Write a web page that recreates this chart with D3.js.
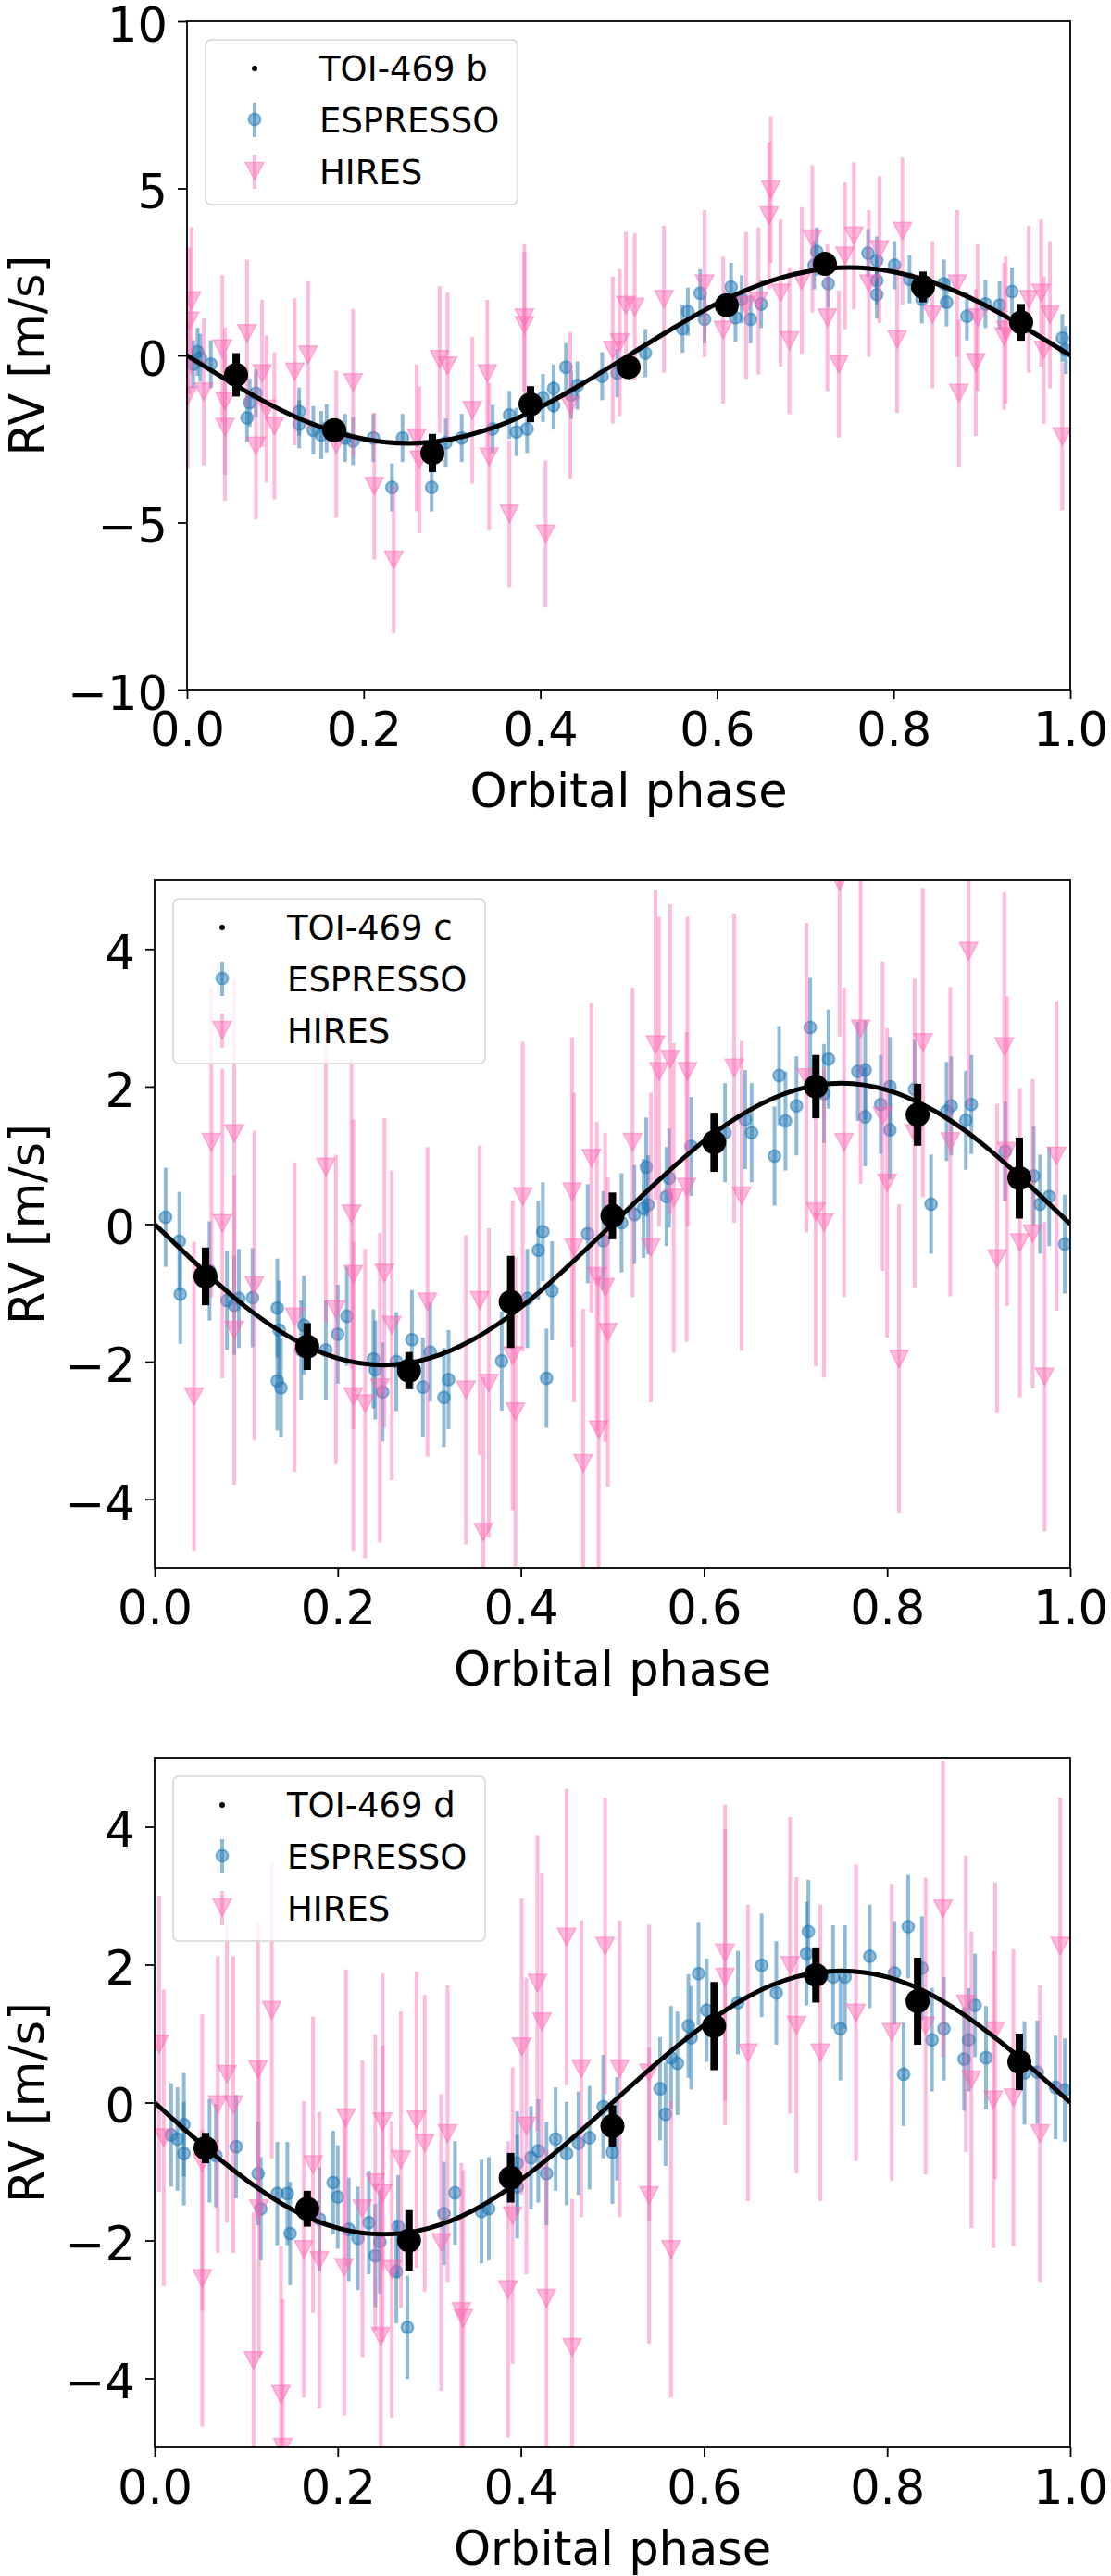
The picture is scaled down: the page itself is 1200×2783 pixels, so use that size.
<!DOCTYPE html>
<html>
<head>
<meta charset="utf-8">
<script src="https://cdn.jsdelivr.net/npm/d3@7"></script>
<style>
  body { margin: 0; background: #fff; }
  text { font-family: "DejaVu Sans", sans-serif; }
</style>
</head>
<body>
<div id="chart"></div>
<script>
// shared ticks / phase grids
const phaseTicks = [0, 0.2, 0.4, 0.6, 0.8, 1.0];
const binPhases = [0.0556, 0.1667, 0.2778, 0.3889, 0.5, 0.6111, 0.7222, 0.8333, 0.9444];
const modelPhases = [0, 0.05, 0.1, 0.15, 0.2, 0.25, 0.3, 0.35, 0.4, 0.45, 0.5,
                     0.55, 0.6, 0.65, 0.7, 0.75, 0.8, 0.85, 0.9, 0.95, 1.0];
const ticksB = [-10, -5, 0, 5, 10];
const ticksCD = [-4, -2, 0, 2, 4];

// ---- TOI-469 b ----
const espressoB = [[0.007,-0.26],[0.012,0.11],[0.015,-0.07],[0.027,-0.26],[0.068,-1.87],[0.071,-1.41],[0.078,-1.13],
  [0.127,-1.68],[0.127,-2.06],[0.143,-2.24],[0.152,-2.38],[0.158,-2.18],[0.179,-2.47],[0.188,-2.56],[0.211,-2.47],
  [0.232,-3.95],[0.244,-2.47],[0.277,-3.95],[0.293,-2.61],[0.311,-2.47],[0.346,-2.20],[0.365,-1.78],[0.373,-2.29],
  [0.385,-2.20],[0.403,-1.27],[0.415,-0.99],[0.415,-1.50],[0.429,-0.35],[0.435,-1.18],[0.442,-0.90],[0.470,-0.62],
  [0.487,-0.53],[0.519,0.07],[0.561,0.80],[0.567,1.31],[0.581,1.86],[0.586,1.08],[0.616,2.05],[0.621,1.13],
  [0.628,1.68],[0.638,1.08],[0.650,1.54],[0.710,2.70],[0.713,3.11],[0.726,2.15],[0.771,3.06],[0.781,2.84],
  [0.781,2.24],[0.781,1.82],[0.801,2.70],[0.818,2.28],[0.832,1.68],[0.857,2.15],[0.860,1.59],[0.883,1.17],
  [0.904,1.54],[0.920,1.50],[0.934,1.91],[0.991,0.52],[0.995,0.16]];
const hiresB = [[0.005,1.64],[0.003,1.03],[0.019,-1.09],[0.001,-1.20],[0.040,0.20],[0.043,-1.37],[0.043,-2.15],
  [0.068,0.66],[0.078,-2.71],[0.085,-0.54],[0.090,-1.60],[0.099,-2.11],[0.122,-0.49],[0.137,0.02],[0.169,-2.66],
  [0.188,-0.81],[0.212,-3.91],[0.234,-6.12],[0.260,-2.47],[0.263,-3.12],[0.286,-0.12],[0.295,-0.31],[0.323,-1.64],
  [0.340,-0.54],[0.342,-3.03],[0.365,-4.74],[0.382,1.13],[0.382,0.90],[0.406,-5.34],[0.434,-1.50],[0.482,0.16],
  [0.490,0.39],[0.497,1.50],[0.507,1.45],[0.540,1.68],[0.586,2.15],[0.607,0.76],[0.633,1.50],[0.647,1.63],
  [0.661,4.96],[0.659,4.18],[0.672,1.87],[0.682,0.44],[0.696,2.24],[0.708,3.49],[0.725,1.13],[0.738,-0.26],
  [0.745,2.98],[0.755,3.58],[0.772,2.15],[0.784,3.17],[0.804,0.48],[0.810,3.72],[0.844,1.22],[0.872,2.15],
  [0.874,-1.13],[0.893,-0.21],[0.895,1.13],[0.925,0.57],[0.927,0.76],[0.953,1.68],[0.967,1.87],[0.970,0.16],
  [0.977,1.22],[0.991,-2.43]];
const binnedB = [-0.58, -2.24, -2.92, -1.46, -0.35, 1.50, 2.74, 2.05, 0.99];
const binErrB = [0.65, 0.30, 0.57, 0.54, 0.30, 0.30, 0.30, 0.46, 0.55];
const modelB = [0, -0.81, -1.55, -2.13, -2.50, -2.63, -2.50, -2.13, -1.55, -0.81, 0,
                0.81, 1.55, 2.13, 2.50, 2.63, 2.50, 2.13, 1.55, 0.81, 0];

// ---- TOI-469 c ----
const espressoC = [[0.012,0.10],[0.027,-0.25],[0.028,-1.02],[0.060,-0.68],[0.079,-1.11],[0.087,-1.18],[0.092,-1.08],
  [0.107,-1.07],[0.134,-1.22],[0.136,-1.54],[0.134,-2.28],[0.138,-2.38],[0.160,-1.83],[0.163,-1.47],[0.187,-1.83],
  [0.200,-1.60],[0.210,-1.34],[0.239,-1.96],[0.241,-2.12],[0.249,-2.44],[0.264,-2.00],[0.281,-1.68],[0.293,-2.37],
  [0.301,-1.86],[0.316,-2.52],[0.321,-2.26],[0.379,-1.99],[0.407,-1.08],[0.419,-0.38],[0.424,-0.11],[0.428,-2.24],
  [0.434,-0.97],[0.473,-0.14],[0.490,-0.24],[0.510,0.02],[0.524,0.14],[0.534,0.23],[0.539,0.28],[0.537,0.83],
  [0.559,0.40],[0.562,0.67],[0.586,1.13],[0.623,1.33],[0.645,1.52],[0.652,1.33],[0.677,0.99],[0.682,2.16],
  [0.689,1.50],[0.701,1.72],[0.716,2.86],[0.731,1.90],[0.736,2.40],[0.768,2.22],[0.776,2.24],[0.776,1.56],
  [0.793,1.74],[0.803,2.00],[0.803,1.37],[0.830,1.96],[0.848,0.29],[0.865,1.64],[0.870,1.72],[0.886,1.51],
  [0.892,1.74],[0.929,1.06],[0.960,0.70],[0.967,0.29],[0.977,0.40],[0.994,-0.29]];
const hiresC = [[0.062,1.19],[0.087,1.32],[0.074,0.01],[0.043,-2.51],[0.087,-1.54],[0.109,-0.89],[0.153,-1.35],
  [0.187,0.83],[0.198,-1.24],[0.215,0.15],[0.217,-0.73],[0.217,-2.51],[0.230,-2.61],[0.246,-2.38],[0.251,-0.71],
  [0.259,-1.47],[0.298,-1.13],[0.340,-2.41],[0.355,-1.11],[0.359,-4.48],[0.365,-2.31],[0.391,-1.91],[0.394,-2.73],
  [0.402,0.40],[0.456,0.47],[0.458,-0.34],[0.468,-3.48],[0.477,0.96],[0.483,-0.76],[0.485,-2.99],[0.492,-0.92],
  [0.495,-1.57],[0.522,1.19],[0.542,-0.34],[0.547,2.61],[0.551,2.22],[0.563,2.40],[0.567,0.38],[0.581,0.54],
  [0.582,2.22],[0.633,2.27],[0.641,0.41],[0.712,2.13],[0.722,0.18],[0.731,0.02],[0.748,4.98],[0.753,1.19],
  [0.771,2.84],[0.795,1.57],[0.800,0.60],[0.813,-1.96],[0.830,1.32],[0.839,2.64],[0.869,1.20],[0.889,3.97],
  [0.920,-0.50],[0.928,2.58],[0.931,1.06],[0.945,-0.27],[0.959,-0.14],[0.972,-2.22],[0.985,0.99]];
const binnedC = [-0.76, -1.78, -2.13, -1.13, 0.12, 1.19, 2.00, 1.59, 0.67];
const binErrC = [0.42, 0.34, 0.27, 0.67, 0.34, 0.43, 0.46, 0.45, 0.59];
const modelC = [0, -0.63, -1.21, -1.66, -1.95, -2.05, -1.95, -1.66, -1.21, -0.63, 0,
                0.63, 1.21, 1.66, 1.95, 2.05, 1.95, 1.66, 1.21, 0.63, 0];

// ---- TOI-469 d ----
const espressoD = [[0.018,-0.47],[0.025,-0.53],[0.032,-0.32],[0.032,-0.74],[0.060,-0.70],[0.067,-0.77],[0.089,-0.64],
  [0.113,-1.03],[0.116,-1.54],[0.134,-1.32],[0.145,-1.32],[0.148,-1.90],[0.180,-1.69],[0.195,-1.16],[0.200,-1.37],
  [0.212,-1.84],[0.222,-1.97],[0.234,-1.74],[0.241,-2.22],[0.246,-2.02],[0.264,-2.45],[0.266,-1.80],[0.276,-3.26],
  [0.316,-1.61],[0.328,-1.31],[0.357,-1.58],[0.365,-1.54],[0.396,-1.22],[0.396,-0.88],[0.411,-0.80],[0.419,-0.70],
  [0.428,-1.03],[0.438,-0.53],[0.450,-0.74],[0.463,-0.59],[0.475,-0.51],[0.490,-0.06],[0.500,-0.72],[0.505,-0.38],
  [0.552,0.20],[0.558,-0.17],[0.564,0.65],[0.571,0.57],[0.583,1.11],[0.586,0.94],[0.594,1.87],[0.603,1.34],
  [0.637,1.45],[0.663,1.99],[0.679,1.59],[0.712,2.16],[0.714,2.48],[0.741,1.82],[0.749,1.07],[0.754,1.82],
  [0.781,2.12],[0.808,1.88],[0.818,0.41],[0.823,2.55],[0.838,1.95],[0.849,0.91],[0.862,1.07],[0.884,0.63],
  [0.889,0.91],[0.896,1.41],[0.908,0.65],[0.950,0.43],[0.964,0.44],[0.984,0.22],[0.994,0.18]];
const hiresD = [[0.005,0.85],[0.010,-0.51],[0.052,-2.55],[0.052,-0.87],[0.069,-0.03],[0.079,0.41],[0.086,-0.03],
  [0.108,-3.74],[0.113,0.48],[0.114,-1.54],[0.128,1.34],[0.138,-4.23],[0.140,-5.00],[0.163,-2.13],[0.173,-0.90],
  [0.180,-2.29],[0.207,-2.39],[0.209,-0.22],[0.227,-1.54],[0.241,-1.16],[0.247,-3.39],[0.249,-0.28],[0.249,-1.32],
  [0.259,-2.42],[0.269,-0.83],[0.286,-0.25],[0.295,-0.59],[0.313,-2.03],[0.320,-0.45],[0.335,-3.03],[0.337,-3.13],
  [0.386,-2.71],[0.391,-1.64],[0.401,0.81],[0.406,-0.34],[0.418,1.73],[0.423,1.17],[0.428,-2.84],[0.450,2.40],
  [0.456,-3.55],[0.466,0.49],[0.492,2.27],[0.508,0.49],[0.540,0.43],[0.540,-1.35],[0.564,-2.13],[0.623,2.17],
  [0.623,1.82],[0.648,0.72],[0.694,1.99],[0.701,1.12],[0.727,0.72],[0.766,1.30],[0.805,1.02],[0.842,1.11],
  [0.861,2.81],[0.886,1.43],[0.892,0.33],[0.916,0.04],[0.918,1.04],[0.938,0.07],[0.967,-0.45],[0.989,2.27]];
const binnedD = [-0.66, -1.54, -2.00, -1.09, -0.34, 1.11, 1.85, 1.47, 0.59];
const binErrD = [0.22, 0.26, 0.44, 0.36, 0.30, 0.64, 0.40, 0.63, 0.41];
const modelD = [0, -0.59, -1.12, -1.55, -1.82, -1.91, -1.82, -1.55, -1.12, -0.59, 0,
                0.59, 1.12, 1.55, 1.82, 1.91, 1.82, 1.55, 1.12, 0.59, 0];

const espColor = "#1f77b4";
const hiresColor = "#ff69b4";

const panels = [
  { name: "TOI-469 b", esp: espressoB, hires: hiresB, binned: binnedB, binErr: binErrB, model: modelB,
    espErr: 0.72, hiresErr: 2.2, yDomain: [-10, 10], yTicks: ticksB,
    left: 202, right: 1156, top: 23, bottom: 745 },
  { name: "TOI-469 c", esp: espressoC, hires: hiresC, binned: binnedC, binErr: binErrC, model: modelC,
    espErr: 0.72, hiresErr: 2.25, yDomain: [-5, 5], yTicks: ticksCD,
    left: 167, right: 1156, top: 951, bottom: 1694 },
  { name: "TOI-469 d", esp: espressoD, hires: hiresD, binned: binnedD, binErr: binErrD, model: modelD,
    espErr: 0.75, hiresErr: 2.15, yDomain: [-5, 5], yTicks: ticksCD,
    left: 167, right: 1156, top: 1899, bottom: 2644 }
];

const svg = d3.select("#chart").append("svg")
  .attr("width", 1200).attr("height", 2783)
  .style("background", "#fff");

const tri = (cx, cy) => `M${cx - 10},${cy - 9.5}L${cx + 10},${cy - 9.5}L${cx},${cy + 9.5}Z`;

panels.forEach((p, i) => {
  const x = d3.scaleLinear().domain([0, 1]).range([p.left, p.right]);
  const y = d3.scaleLinear().domain(p.yDomain).range([p.bottom, p.top]);

  svg.append("clipPath").attr("id", `clip${i}`)
    .append("rect")
    .attr("x", p.left).attr("y", p.top)
    .attr("width", p.right - p.left).attr("height", p.bottom - p.top);

  const plot = svg.append("g").attr("clip-path", `url(#clip${i})`);

  // ESPRESSO
  const esp = plot.append("g");
  esp.selectAll("line").data(p.esp).enter().append("line")
    .attr("x1", d => x(d[0])).attr("x2", d => x(d[0]))
    .attr("y1", d => y(d[1] - p.espErr)).attr("y2", d => y(d[1] + p.espErr))
    .attr("stroke", espColor).attr("stroke-opacity", 0.5).attr("stroke-width", 4);
  esp.selectAll("circle").data(p.esp).enter().append("circle")
    .attr("cx", d => x(d[0])).attr("cy", d => y(d[1])).attr("r", 6.5)
    .attr("fill", espColor).attr("fill-opacity", 0.5)
    .attr("stroke", espColor).attr("stroke-opacity", 0.5).attr("stroke-width", 2);

  // HIRES
  const hr = plot.append("g");
  hr.selectAll("line").data(p.hires).enter().append("line")
    .attr("x1", d => x(d[0])).attr("x2", d => x(d[0]))
    .attr("y1", d => y(d[1] - p.hiresErr)).attr("y2", d => y(d[1] + p.hiresErr))
    .attr("stroke", hiresColor).attr("stroke-opacity", 0.45).attr("stroke-width", 4);
  hr.selectAll("path").data(p.hires).enter().append("path")
    .attr("d", d => tri(x(d[0]), y(d[1])))
    .attr("fill", hiresColor).attr("fill-opacity", 0.45)
    .attr("stroke", hiresColor).attr("stroke-opacity", 0.45).attr("stroke-width", 1.5);

  // model curve
  const line = d3.line().x((d, j) => x(modelPhases[j])).y(d => y(d)).curve(d3.curveNatural);
  plot.append("path").datum(p.model)
    .attr("d", line)
    .attr("fill", "none").attr("stroke", "#000").attr("stroke-width", 5);

  // binned points
  const bin = plot.append("g");
  bin.selectAll("line").data(p.binned).enter().append("line")
    .attr("x1", (d, j) => x(binPhases[j])).attr("x2", (d, j) => x(binPhases[j]))
    .attr("y1", (d, j) => y(d - p.binErr[j])).attr("y2", (d, j) => y(d + p.binErr[j]))
    .attr("stroke", "#000").attr("stroke-width", 8);
  bin.selectAll("circle").data(p.binned).enter().append("circle")
    .attr("cx", (d, j) => x(binPhases[j])).attr("cy", d => y(d)).attr("r", 13)
    .attr("fill", "#000");

  // frame
  svg.append("rect")
    .attr("x", p.left).attr("y", p.top)
    .attr("width", p.right - p.left).attr("height", p.bottom - p.top)
    .attr("fill", "none").attr("stroke", "#000").attr("stroke-width", 1.8);

  // axes
  const gx = svg.append("g").attr("transform", `translate(0,${p.bottom})`)
    .call(d3.axisBottom(x).tickValues(phaseTicks).tickFormat(d3.format(".1f"))
      .tickSize(10).tickPadding(15));
  gx.select(".domain").remove();
  gx.attr("font-size", 51).attr("font-family", "DejaVu Sans, sans-serif");
  gx.selectAll(".tick line").attr("stroke", "#000").attr("stroke-width", 1.8);
  gx.selectAll(".tick text").attr("fill", "#000");

  const gy = svg.append("g").attr("transform", `translate(${p.left},0)`)
    .call(d3.axisLeft(y).tickValues(p.yTicks).tickFormat(d3.format("d"))
      .tickSize(10).tickPadding(11));
  gy.select(".domain").remove();
  gy.attr("font-size", 51).attr("font-family", "DejaVu Sans, sans-serif");
  gy.selectAll(".tick line").attr("stroke", "#000").attr("stroke-width", 1.8);
  gy.selectAll(".tick text").attr("fill", "#000").attr("dy", "0.42em");

  // axis labels
  svg.append("text")
    .attr("x", (p.left + p.right) / 2).attr("y", p.bottom + 127)
    .attr("text-anchor", "middle").attr("font-size", 51)
    .text("Orbital phase");
  svg.append("text")
    .attr("transform", `translate(47,${(p.top + p.bottom) / 2}) rotate(-90)`)
    .attr("text-anchor", "middle").attr("font-size", 51)
    .text("RV [m/s]");

  // legend
  const lx = p.left + 20, ly = p.top + 20;
  const lg = svg.append("g");
  lg.append("rect")
    .attr("x", lx).attr("y", ly).attr("width", 337).attr("height", 178).attr("rx", 6)
    .attr("fill", "#fff").attr("fill-opacity", 0.8)
    .attr("stroke", "#d6d6d6").attr("stroke-width", 1.5);
  const mx = lx + 53;
  lg.append("circle").attr("cx", mx).attr("cy", ly + 31).attr("r", 3).attr("fill", "#000");
  lg.append("line").attr("x1", mx).attr("x2", mx).attr("y1", ly + 68).attr("y2", ly + 105)
    .attr("stroke", espColor).attr("stroke-opacity", 0.5).attr("stroke-width", 4);
  lg.append("circle").attr("cx", mx).attr("cy", ly + 86).attr("r", 6.5)
    .attr("fill", espColor).attr("fill-opacity", 0.5)
    .attr("stroke", espColor).attr("stroke-opacity", 0.5).attr("stroke-width", 2);
  lg.append("line").attr("x1", mx).attr("x2", mx).attr("y1", ly + 124).attr("y2", ly + 161)
    .attr("stroke", hiresColor).attr("stroke-opacity", 0.45).attr("stroke-width", 4);
  lg.append("path").attr("d", tri(mx, ly + 142))
    .attr("fill", hiresColor).attr("fill-opacity", 0.45)
    .attr("stroke", hiresColor).attr("stroke-opacity", 0.45).attr("stroke-width", 1.5);
  [p.name, "ESPRESSO", "HIRES"].forEach((t, k) => {
    lg.append("text").attr("x", lx + 123).attr("y", ly + 44 + k * 56)
      .attr("font-size", 37).attr("fill", "#000").text(t);
  });
});
</script>
</body>
</html>
